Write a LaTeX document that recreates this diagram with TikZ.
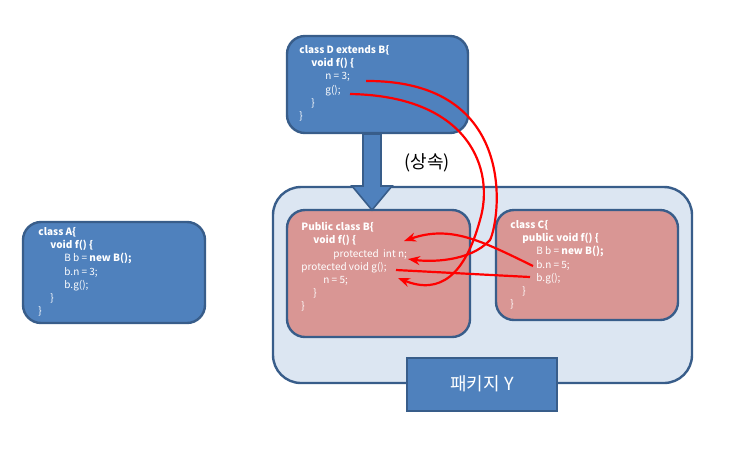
\documentclass[tikz,border=0pt]{standalone}
\usepackage{fontspec}
\setmainfont{Noto Sans CJK KR}
\usetikzlibrary{arrows.meta,shapes.arrows}
\definecolor{boxblue}{HTML}{4F81BD}
\definecolor{edgeblue}{HTML}{385D8A}
\definecolor{pkgfill}{HTML}{DCE6F2}
\definecolor{clsred}{HTML}{D99694}
\tikzset{
  cls/.style={rounded corners=9pt, draw=edgeblue, line width=1.2pt},
  code/.style={anchor=north west, align=left, text=white, inner sep=0pt,
    font=\fontsize{5}{6.6}\selectfont},
  ref/.style={red, line width=1.1pt},
}
\begin{document}
\begin{tikzpicture}[x=0.5pt,y=-0.5pt]
  \useasboundingbox (0,0) rectangle (743,452);
  % package Y
  \draw[cls, fill=pkgfill, rounded corners=14pt] (273,187) rectangle (692,383);
  \draw[cls, fill=boxblue, rounded corners=0pt] (407,358) rectangle (557,411);
  \node[text=white, font=\fontsize{9}{11}\selectfont] (pkg) at (482,384) {패키지 Y};

  % class boxes
  \draw[cls, fill=boxblue] (23,222) rectangle (205,323);
  \draw[cls, fill=boxblue] (287,36) rectangle (468,133);
  \draw[cls, fill=clsred] (287,210) rectangle (470,337);
  \draw[cls, fill=clsred] (496,210) rectangle (678,320);

  % inheritance arrow
  \fill[boxblue, draw=edgeblue, line width=0.8pt]
    (363,134) -- (381,134) -- (381,186) -- (392,186) -- (372,210)
    -- (352,186) -- (363,186) -- cycle;
  \node[font=\fontsize{9}{11}\selectfont] (inh) at (427,163) {(상속)};

  % code
  \node[code] (codeA) at (38,227) {\textbf{class A\{}\\
    \hspace{1.2em}\textbf{void f() \{}\\
    \hspace{2.6em}B b = \textbf{new B();}\\
    \hspace{2.6em}b.n = 3;\\
    \hspace{2.6em}b.g();\\
    \hspace{1.2em}\}\\ \}};
  \node[code] (codeD) at (299,45) {\textbf{class D extends B\{}\\
    \hspace{1.2em}\textbf{void f() \{}\\
    \hspace{2.6em}n = 3;\\
    \hspace{2.6em}g();\\
    \hspace{1.2em}\}\\ \}};
  \node[code] (codeB) at (301,222) {\textbf{Public class B\{}\\
    \hspace{1.2em}\textbf{void f() \{}\\
    \hspace{3.2em}protected\ \ int n;\\
    protected void g();\\
    \hspace{2.2em}n = 5;\\
    \hspace{1.2em}\}\\ \}};
  \node[code] (codeC) at (510,220) {\textbf{class C\{}\\
    \hspace{1.2em}\textbf{public void f() \{}\\
    \hspace{2.6em}B b = \textbf{new B();}\\
    \hspace{2.6em}b.n = 5;\\
    \hspace{2.6em}b.g();\\
    \hspace{1.2em}\}\\ \}};

  % reference marks
  \coordinate (dn) at (366,81);
  \coordinate (dg) at (350,94);
  \coordinate (bn) at (404,241);
  \coordinate (bn2) at (408,259);
  \coordinate (bg) at (396,270);
  \coordinate (bg2) at (398,278);
  \coordinate (cn) at (533,266);
  \coordinate (cg) at (530,277);
  \draw[ref, -{Stealth[length=6pt,open]}] (dn) .. controls (520,80) and (500,220) .. (490,240)
    .. controls (470,262) and (430,262) .. (bn2);
  \draw[ref, -{Stealth[length=6pt,open]}] (dg) .. controls (470,96) and (495,170) .. (480,220)
    .. controls (465,275) and (440,295) .. (bg2);
  \draw[ref, -{Stealth[length=6pt,open]}] (cn) .. controls (480,240) and (450,225) .. (bn);
  \draw[ref] (cg) -- (bg);
\end{tikzpicture}
\end{document}
